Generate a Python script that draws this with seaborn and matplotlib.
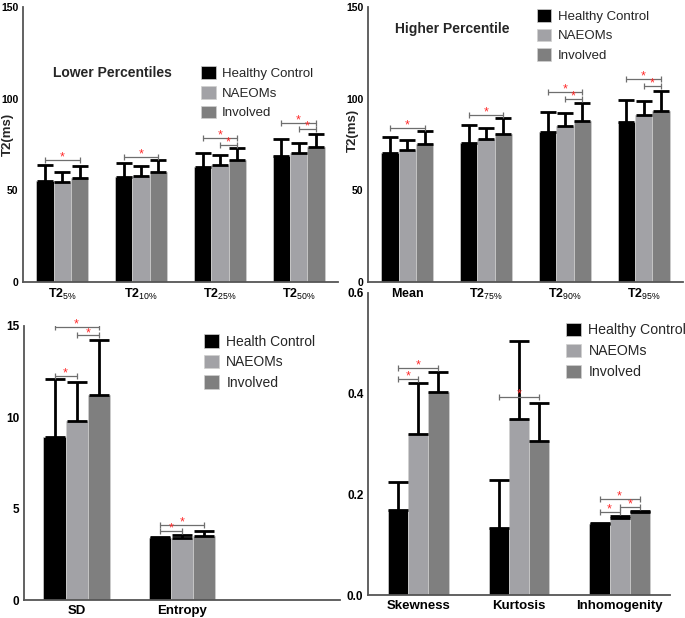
import matplotlib
matplotlib.use("Agg")
import matplotlib.pyplot as plt
import seaborn as sns
import pandas as pd
import numpy as np

# ---- data ----
groups = ["Healthy Control", "NAEOMs", "Involved"]
groups_sd = ["Health Control", "NAEOMs", "Involved"]
colors = ["#000000", "#a2a2a6", "#7f7f7f"]

lower_metrics = ["T2_5", "T2_10", "T2_25", "T2_50"]
lower_labels = [r"$\mathbf{T2}_{5\%}$", r"$\mathbf{T2}_{10\%}$", r"$\mathbf{T2}_{25\%}$", r"$\mathbf{T2}_{50\%}$"]
lower_hc = [55.1, 57.5, 62.9, 68.9]
lower_na = [54.4, 58.0, 63.8, 70.2]
lower_inv = [56.6, 60.2, 66.4, 73.5]
lower_hc_top = [63.8, 65.1, 70.5, 77.8]
lower_na_top = [60.2, 63.5, 69.1, 76.0]
lower_inv_top = [63.5, 66.5, 72.9, 80.7]
# (category index, hue a, hue b, height)
lower_sig = [(0, 0, 2, 66.5), (1, 0, 2, 68.4), (2, 0, 2, 78.8), (2, 1, 2, 74.9),
             (3, 0, 2, 86.9), (3, 1, 2, 83.6)]

higher_metrics = ["Mean", "T2_75", "T2_90", "T2_95"]
higher_labels = [r"$\mathbf{Mean}$", r"$\mathbf{T2}_{75\%}$", r"$\mathbf{T2}_{90\%}$", r"$\mathbf{T2}_{95\%}$"]
higher_hc = [70.2, 75.7, 81.7, 87.1]
higher_na = [72.0, 77.8, 85.1, 90.9]
higher_inv = [75.1, 80.7, 88.0, 93.1]
higher_hc_top = [78.9, 85.6, 92.6, 99.3]
higher_na_top = [77.5, 84.0, 92.4, 98.6]
higher_inv_top = [82.4, 89.5, 97.8, 104.2]
higher_sig = [(0, 0, 2, 84.2), (1, 0, 2, 91.1), (2, 0, 2, 103.5), (2, 1, 2, 99.7),
              (3, 0, 2, 110.7), (3, 1, 2, 106.8)]

sd_metrics = ["SD", "Entropy"]
sd_hc = [8.9, 3.37]
sd_na = [9.81, 3.41]
sd_inv = [11.22, 3.50]
sd_hc_top = [12.08, 3.47]
sd_na_top = [11.93, 3.56]
sd_inv_top = [14.23, 3.79]
sd_sig = [(0, 0, 2, 14.92), (0, 1, 2, 14.48), (0, 0, 1, 12.26),
          (1, 0, 2, 4.09), (1, 0, 1, 3.79)]

shape_metrics = ["Skewness", "Kurtosis", "Inhomogenity"]
shape_hc = [0.169, 0.133, 0.1405]
shape_na = [0.319, 0.350, 0.152]
shape_inv = [0.404, 0.306, 0.164]
shape_hc_top = [0.224, 0.229, 0.144]
shape_na_top = [0.421, 0.505, 0.156]
shape_inv_top = [0.443, 0.382, 0.166]
shape_sig = [(0, 0, 2, 0.451), (0, 0, 1, 0.429), (1, 0, 2, 0.393),
             (2, 0, 2, 0.191), (2, 1, 2, 0.174), (2, 0, 1, 0.164)]

sns.set_style("white")
plt.rcParams["font.family"] = ["Liberation Sans", "DejaVu Sans"]
plt.rcParams["mathtext.fontset"] = "custom"
plt.rcParams["mathtext.rm"] = "Liberation Sans"
plt.rcParams["mathtext.bf"] = "Liberation Sans:bold"
plt.rcParams["mathtext.it"] = "Liberation Sans:italic"

AXC = "#555555"


def long_df(metrics, names, hc, na, inv):
    rows = []
    for name, vals in zip(names, [hc, na, inv]):
        for m, v in zip(metrics, vals):
            rows.append({"metric": m, "group": name, "value": v})
    return pd.DataFrame(rows)


def draw_panel(ax, metrics, names, vals, tops, sig, width, legend_anchor, legend_fs,
               capsize):
    df = long_df(metrics, names, *vals)
    sns.barplot(data=df, x="metric", y="value", hue="group", order=metrics,
                hue_order=names, palette=colors, width=width, errorbar=None,
                saturation=1, edgecolor="#d0d0d0", linewidth=0.5, ax=ax)
    centers = []
    for cont, v, t in zip(ax.containers, vals, tops):
        xs = np.array([p.get_x() + p.get_width() / 2 for p in cont])
        centers.append(xs)
        v = np.array(v)
        t = np.array(t)
        ax.errorbar(xs, v, yerr=[np.zeros_like(v), t - v], fmt="none",
                    ecolor="black", elinewidth=2.0, capsize=capsize, capthick=2.0,
                    zorder=3)
    for ci, a, b, y in sig:
        x1, x2 = centers[a][ci], centers[b][ci]
        ax.plot([x1, x2], [y, y], color="#6e6e6e", lw=0.9, zorder=4)
        ax.plot([x1, x2], [y, y], ls="none", marker="|", ms=4, mew=0.9,
                color="#6e6e6e", zorder=4)
        ax.annotate("*", ((x1 + x2) / 2, y), xytext=(0, -2.5),
                    textcoords="offset points", ha="center", va="bottom",
                    color="#ff2a2a", fontsize=9, zorder=5)
    handles, labels = ax.get_legend_handles_labels()
    ax.legend(handles, labels, loc="upper left", bbox_to_anchor=legend_anchor,
              frameon=False, fontsize=legend_fs, handlelength=1.1,
              handleheight=1.1, handletextpad=0.5, labelspacing=0.45,
              borderpad=0, borderaxespad=0)
    sns.despine(ax=ax)
    ax.patch.set_visible(False)
    for s in ["left", "bottom"]:
        ax.spines[s].set_color(AXC)
        ax.spines[s].set_linewidth(1.3)
    ax.tick_params(axis="both", which="both", direction="out", colors=AXC,
                   length=2.5, width=1, pad=0.8)
    ax.tick_params(axis="both", labelcolor="black")
    ax.set_xlabel("")
    ax.set_ylabel("")


fig = plt.figure(figsize=(6.85, 6.18), dpi=100)
ax4 = fig.add_axes([0.5372, 0.0372, 0.4409, 0.4887])
ax3 = fig.add_axes([0.0350, 0.0291, 0.4613, 0.4434])
ax1 = fig.add_axes([0.0336, 0.5437, 0.4599, 0.445])
ax2 = fig.add_axes([0.5372, 0.5437, 0.4599, 0.445])

draw_panel(ax1, lower_metrics, groups, [lower_hc, lower_na, lower_inv],
           [lower_hc_top, lower_na_top, lower_inv_top], lower_sig, 0.66,
           (0.565, 0.785), 9.5, 5.5)
draw_panel(ax2, higher_metrics, groups, [higher_hc, higher_na, higher_inv],
           [higher_hc_top, higher_na_top, higher_inv_top], higher_sig, 0.66,
           (0.535, 0.993), 9.5, 5.5)
draw_panel(ax3, sd_metrics, groups_sd, [sd_hc, sd_na, sd_inv],
           [sd_hc_top, sd_na_top, sd_inv_top], sd_sig, 0.63,
           (0.57, 0.97), 10, 7)
draw_panel(ax4, shape_metrics, groups, [shape_hc, shape_na, shape_inv],
           [shape_hc_top, shape_na_top, shape_inv_top], shape_sig, 0.60,
           (0.655, 0.902), 10.2, 7)

for ax, labels, ly in [(ax1, lower_labels, 0.535), (ax2, higher_labels, 0.55)]:
    ax.set_ylim(0, 150)
    ax.set_yticks([0, 50, 100, 150])
    ax.set_xlim(-0.5, 3.5)
    ax.set_xticks(range(4))
    ax.set_xticklabels(labels, fontsize=9)
    ax.set_ylabel("T2(ms)", fontsize=9.5, fontweight="bold")
    ax.yaxis.set_label_coords(-0.028, ly)
    for lab in ax.get_yticklabels():
        lab.set_fontweight("bold")
        lab.set_fontsize(7.5)

ax1.text(0.095, 0.76, "Lower Percentiles", transform=ax1.transAxes,
         fontsize=10, fontweight="bold", va="center", ha="left")
ax2.text(0.086, 0.92, "Higher Percentile", transform=ax2.transAxes,
         fontsize=10, fontweight="bold", va="center", ha="left")

ax3.set_ylim(0, 15)
ax3.set_yticks([0, 5, 10, 15])
ax3.set_xlim(-0.5, 2.5)
ax3.set_xticks([0, 1, 2])
ax3.set_xticklabels(["SD", "Entropy", ""], fontsize=9.5, fontweight="bold")

ax4.set_ylim(0, 0.6)
ax4.set_yticks([0.0, 0.2, 0.4, 0.6])
ax4.set_yticks([0.1, 0.3, 0.5], minor=True)
ax4.set_yticklabels(["0.0", "0.2", "0.4", "0.6"])
ax4.set_xlim(-0.5, 2.5)
ax4.set_xticks([0, 1, 2])
ax4.set_xticklabels(shape_metrics, fontsize=9.5, fontweight="bold")

for ax in [ax3, ax4]:
    for lab in ax.get_yticklabels():
        lab.set_fontweight("bold")
        lab.set_fontsize(8.5)

fig.savefig("out.png", dpi=100)
plt.close(fig)
